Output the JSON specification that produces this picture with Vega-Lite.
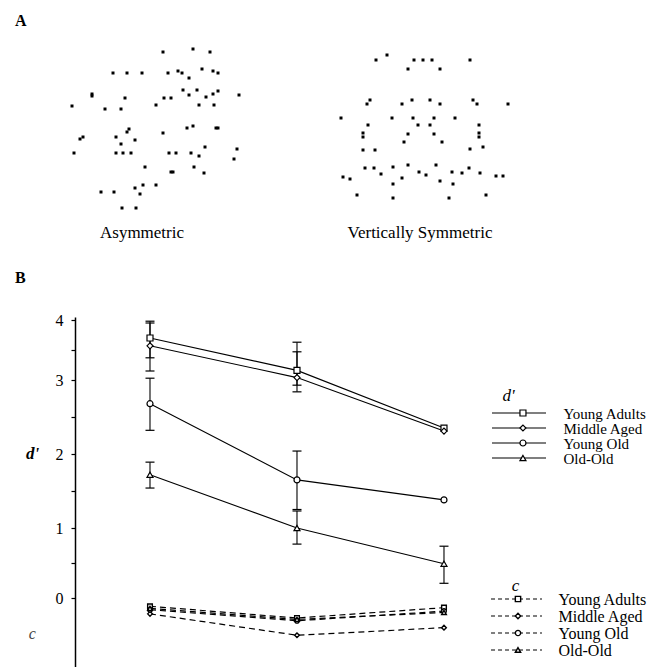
{
  "$schema": "https://vega.github.io/schema/vega-lite/v6.json",
  "autosize": {"type": "pad"},
  "padding": 0,
  "background": "white",
  "config": {"view": {"stroke": null}, "font": "Liberation Serif"},
  "bounds": "flush",
  "spacing": 0,
  "datasets": {
    "dots": [
      {"p":"asym","x":163,"y":52},{"p":"asym","x":193,"y":49},{"p":"asym","x":210,"y":52},
      {"p":"asym","x":113,"y":73},{"p":"asym","x":127,"y":73},{"p":"asym","x":142,"y":73},{"p":"asym","x":168,"y":73},{"p":"asym","x":178,"y":71},{"p":"asym","x":182,"y":73},{"p":"asym","x":189,"y":78},{"p":"asym","x":202,"y":69},{"p":"asym","x":213,"y":71},{"p":"asym","x":218,"y":73},
      {"p":"asym","x":92,"y":94},{"p":"asym","x":92,"y":96},{"p":"asym","x":72,"y":106},{"p":"asym","x":105,"y":109},{"p":"asym","x":121,"y":109},{"p":"asym","x":125,"y":98},{"p":"asym","x":156,"y":105},{"p":"asym","x":164,"y":98},{"p":"asym","x":171,"y":98},{"p":"asym","x":183,"y":90},{"p":"asym","x":189,"y":95},{"p":"asym","x":197,"y":90},{"p":"asym","x":206,"y":97},{"p":"asym","x":213,"y":94},{"p":"asym","x":218,"y":91},{"p":"asym","x":239,"y":95},{"p":"asym","x":199,"y":105},{"p":"asym","x":214,"y":105},
      {"p":"asym","x":129,"y":129},{"p":"asym","x":127,"y":132},{"p":"asym","x":187,"y":128},{"p":"asym","x":193,"y":126},{"p":"asym","x":216,"y":128},{"p":"asym","x":218,"y":128},{"p":"asym","x":163,"y":133},{"p":"asym","x":80,"y":139},{"p":"asym","x":83,"y":137},{"p":"asym","x":116,"y":137},{"p":"asym","x":121,"y":144},{"p":"asym","x":135,"y":140},
      {"p":"asym","x":74,"y":153},{"p":"asym","x":116,"y":153},{"p":"asym","x":123,"y":153},{"p":"asym","x":131,"y":153},{"p":"asym","x":169,"y":153},{"p":"asym","x":176,"y":153},{"p":"asym","x":191,"y":153},{"p":"asym","x":199,"y":156},{"p":"asym","x":205,"y":147},{"p":"asym","x":237,"y":149},{"p":"asym","x":234,"y":159},
      {"p":"asym","x":145,"y":167},{"p":"asym","x":171,"y":172},{"p":"asym","x":173,"y":172},{"p":"asym","x":194,"y":167},{"p":"asym","x":204,"y":173},
      {"p":"asym","x":101,"y":192},{"p":"asym","x":114,"y":192},{"p":"asym","x":135,"y":188},{"p":"asym","x":140,"y":194},{"p":"asym","x":143,"y":185},{"p":"asym","x":156,"y":185},
      {"p":"asym","x":122,"y":208},{"p":"asym","x":136,"y":208},
      {"p":"sym","x":376,"y":60},{"p":"sym","x":387,"y":55},{"p":"sym","x":408,"y":69},{"p":"sym","x":414,"y":60},{"p":"sym","x":423,"y":60},{"p":"sym","x":432,"y":60},{"p":"sym","x":440,"y":69},{"p":"sym","x":470,"y":60},
      {"p":"sym","x":367,"y":104},{"p":"sym","x":370,"y":100},{"p":"sym","x":402,"y":104},{"p":"sym","x":412,"y":100},{"p":"sym","x":430,"y":100},{"p":"sym","x":440,"y":104},{"p":"sym","x":473,"y":100},{"p":"sym","x":477,"y":104},{"p":"sym","x":508,"y":104},
      {"p":"sym","x":341,"y":118},{"p":"sym","x":392,"y":118},{"p":"sym","x":413,"y":118},{"p":"sym","x":434,"y":118},{"p":"sym","x":455,"y":118},
      {"p":"sym","x":368,"y":125},{"p":"sym","x":418,"y":125},{"p":"sym","x":430,"y":125},{"p":"sym","x":479,"y":125},
      {"p":"sym","x":363,"y":133},{"p":"sym","x":363,"y":137},{"p":"sym","x":408,"y":134},{"p":"sym","x":434,"y":134},{"p":"sym","x":479,"y":133},{"p":"sym","x":479,"y":137},{"p":"sym","x":404,"y":142},{"p":"sym","x":442,"y":142},
      {"p":"sym","x":363,"y":150},{"p":"sym","x":375,"y":150},{"p":"sym","x":470,"y":149},{"p":"sym","x":483,"y":147},
      {"p":"sym","x":365,"y":168},{"p":"sym","x":374,"y":168},{"p":"sym","x":381,"y":174},{"p":"sym","x":393,"y":167},{"p":"sym","x":408,"y":165},{"p":"sym","x":419,"y":172},{"p":"sym","x":426,"y":175},{"p":"sym","x":436,"y":165},{"p":"sym","x":452,"y":172},{"p":"sym","x":462,"y":173},{"p":"sym","x":469,"y":168},{"p":"sym","x":480,"y":173},{"p":"sym","x":496,"y":176},{"p":"sym","x":503,"y":176},
      {"p":"sym","x":343,"y":177},{"p":"sym","x":350,"y":179},{"p":"sym","x":393,"y":184},{"p":"sym","x":402,"y":178},{"p":"sym","x":440,"y":181},{"p":"sym","x":453,"y":184},
      {"p":"sym","x":357,"y":195},{"p":"sym","x":393,"y":198},{"p":"sym","x":449,"y":198},{"p":"sym","x":486,"y":195}
    ],
    "texts": [
      {"kind":"head","x":15,"y":26,"t":"A"},
      {"kind":"head","x":15,"y":283,"t":"B"},
      {"kind":"cap","x":142,"y":238,"t":"Asymmetric"},
      {"kind":"cap","x":420,"y":238,"t":"Vertically Symmetric"}
    ],
    "results": [
      {"m":"d'","g":"Young Adults","cond":1,"v":3.70,"lo":3.37,"hi":3.98},
      {"m":"d'","g":"Young Adults","cond":2,"v":3.16,"lo":2.93,"hi":3.63},
      {"m":"d'","g":"Young Adults","cond":3,"v":2.35,"lo":null,"hi":null},
      {"m":"d'","g":"Middle Aged","cond":1,"v":3.57,"lo":3.15,"hi":3.95},
      {"m":"d'","g":"Middle Aged","cond":2,"v":3.04,"lo":2.84,"hi":3.47},
      {"m":"d'","g":"Middle Aged","cond":3,"v":2.31,"lo":null,"hi":null},
      {"m":"d'","g":"Young Old","cond":1,"v":2.68,"lo":2.32,"hi":3.03},
      {"m":"d'","g":"Young Old","cond":2,"v":1.65,"lo":1.25,"hi":2.04},
      {"m":"d'","g":"Young Old","cond":3,"v":1.38,"lo":null,"hi":null},
      {"m":"d'","g":"Old-Old","cond":1,"v":1.72,"lo":1.54,"hi":1.89},
      {"m":"d'","g":"Old-Old","cond":2,"v":1.00,"lo":0.77,"hi":1.23},
      {"m":"d'","g":"Old-Old","cond":3,"v":0.49,"lo":0.21,"hi":0.74},
      {"m":"c","g":"Young Adults","cond":1,"v":-0.12,"lo":null,"hi":null},
      {"m":"c","g":"Young Adults","cond":2,"v":-0.29,"lo":null,"hi":null},
      {"m":"c","g":"Young Adults","cond":3,"v":-0.14,"lo":null,"hi":null},
      {"m":"c","g":"Middle Aged","cond":1,"v":-0.23,"lo":null,"hi":null},
      {"m":"c","g":"Middle Aged","cond":2,"v":-0.54,"lo":null,"hi":null},
      {"m":"c","g":"Middle Aged","cond":3,"v":-0.43,"lo":null,"hi":null},
      {"m":"c","g":"Young Old","cond":1,"v":-0.17,"lo":null,"hi":null},
      {"m":"c","g":"Young Old","cond":2,"v":-0.33,"lo":null,"hi":null},
      {"m":"c","g":"Young Old","cond":3,"v":-0.19,"lo":null,"hi":null},
      {"m":"c","g":"Old-Old","cond":1,"v":-0.15,"lo":null,"hi":null},
      {"m":"c","g":"Old-Old","cond":2,"v":-0.31,"lo":null,"hi":null},
      {"m":"c","g":"Old-Old","cond":3,"v":-0.21,"lo":null,"hi":null}
    ]
  },
  "vconcat": [
    {
      "width": 665,
      "height": 310,
      "layer": [
        {
          "data": {"name": "dots"},
          "mark": {"type": "point", "shape": "square", "filled": true, "color": "black", "size": 9, "opacity": 1},
          "encoding": {
            "x": {"field": "x", "type": "quantitative", "scale": {"domain": [0, 665], "zero": false, "nice": false}, "axis": null},
            "y": {"field": "y", "type": "quantitative", "scale": {"domain": [0, 310], "zero": false, "nice": false, "reverse": true}, "axis": null}
          }
        },
        {
          "data": {"name": "texts"},
          "transform": [{"filter": "datum.kind == 'head'"}],
          "mark": {"type": "text", "align": "left", "baseline": "alphabetic", "font": "Liberation Serif", "fontWeight": "bold", "fontSize": 16, "color": "black"},
          "encoding": {
            "x": {"field": "x", "type": "quantitative"},
            "y": {"field": "y", "type": "quantitative"},
            "text": {"field": "t"}
          }
        },
        {
          "data": {"name": "texts"},
          "transform": [{"filter": "datum.kind == 'cap'"}],
          "mark": {"type": "text", "align": "center", "baseline": "alphabetic", "font": "Liberation Serif", "fontSize": 17, "color": "black"},
          "encoding": {
            "x": {"field": "x", "type": "quantitative"},
            "y": {"field": "y", "type": "quantitative"},
            "text": {"field": "t"}
          }
        }
      ]
    },
    {
      "hconcat": [
        {
          "width": 75,
          "height": 357,
          "data": {"values": []},
          "mark": {"type": "point", "opacity": 0}
        },
        {
          "width": 400,
          "height": 357,
          "data": {"name": "results"},
          "layer": [
            {
              "transform": [{"filter": "datum.m == \"d'\""}],
              "mark": {"type": "line", "color": "black", "strokeWidth": 1.1},
              "encoding": {
                "x": {"field": "cond", "type": "quantitative", "scale": {"domain": [0.4898, 3.211], "zero": false, "nice": false}, "axis": null},
                "y": {
                  "field": "v", "type": "quantitative",
                  "scale": {"domain": [-1, 0, 1, 2, 3, 4, 4.05], "range": [357, 288, 218, 144, 70, 10, 7], "zero": false, "nice": false},
                  "axis": {
                    "orient": "left",
                    "values": [0, 0.5, 1, 1.5, 2, 2.5, 3, 3.5, 4],
                    "labelExpr": "datum.value % 1 == 0 ? format(datum.value, 'd') : ''",
                    "tickSize": 4,
                    "labelPadding": 8,
                    "labelFont": "Liberation Serif", "labelFontSize": 16, "labelColor": "black",
                    "labelOverlap": false, "labelBound": false, "labelFlush": false,
                    "domainColor": "black", "domainWidth": 1.5, "tickColor": "black", "tickWidth": 1.2, "grid": false,
                    "title": "d'", "titleAngle": 0, "titleX": -43, "titleY": 143, "titleAlign": "center", "titleBaseline": "middle",
                    "titleFont": "Liberation Serif", "titleFontSize": 17, "titleFontStyle": "italic", "titleFontWeight": "bold", "titleColor": "black"
                  }
                },
                "detail": {"field": "g"}
              }
            },
            {
              "transform": [{"filter": "datum.m == 'c'"}],
              "mark": {"type": "line", "color": "black", "strokeWidth": 1.2, "strokeDash": [6, 4]},
              "encoding": {
                "x": {"field": "cond", "type": "quantitative"},
                "y": {"field": "v", "type": "quantitative"},
                "detail": {"field": "g"}
              }
            },
            {
              "mark": {"type": "rule", "color": "black", "strokeWidth": 1.1},
              "encoding": {
                "x": {"field": "cond", "type": "quantitative"},
                "y": {"field": "lo", "type": "quantitative"},
                "y2": {"field": "hi"}
              }
            },
            {
              "mark": {"type": "tick", "orient": "horizontal", "color": "black", "size": 9, "thickness": 1.2, "opacity": 1},
              "encoding": {
                "x": {"field": "cond", "type": "quantitative"},
                "y": {"field": "lo", "type": "quantitative"}
              }
            },
            {
              "mark": {"type": "tick", "orient": "horizontal", "color": "black", "size": 9, "thickness": 1.2, "opacity": 1},
              "encoding": {
                "x": {"field": "cond", "type": "quantitative"},
                "y": {"field": "hi", "type": "quantitative"}
              }
            },
            {
              "transform": [{"filter": "datum.m == \"d'\""}],
              "mark": {"type": "point", "filled": true, "fill": "white", "stroke": "black", "strokeWidth": 1.2, "size": 36, "opacity": 1},
              "encoding": {
                "x": {"field": "cond", "type": "quantitative"},
                "y": {"field": "v", "type": "quantitative"},
                "shape": {"field": "g", "type": "nominal", "scale": {"domain": ["Young Adults", "Middle Aged", "Young Old", "Old-Old"], "range": ["square", "diamond", "circle", "triangle-up"]}, "legend": null}
              }
            },
            {
              "transform": [{"filter": "datum.m == 'c'"}],
              "mark": {"type": "point", "filled": true, "fill": "white", "stroke": "black", "strokeWidth": 1.4, "size": 22, "opacity": 1},
              "encoding": {
                "x": {"field": "cond", "type": "quantitative"},
                "y": {"field": "v", "type": "quantitative"},
                "shape": {"field": "g", "type": "nominal", "legend": null}
              }
            },
            {
              "data": {"values": [{"label": "c"}]},
              "mark": {"type": "text", "font": "Liberation Serif", "fontStyle": "italic", "fontSize": 16, "color": "#444444", "align": "center", "baseline": "middle"},
              "encoding": {
                "x": {"datum": 0.2, "type": "quantitative"},
                "y": {"datum": -0.52, "type": "quantitative"},
                "text": {"field": "label"}
              }
            }
          ]
        },
        {
          "vconcat": [
            {
              "width": 88,
              "height": 155,
              "data": {"name": "results"},
              "transform": [{"filter": "datum.m == \"d'\" && datum.cond == 1"}],
              "layer": [
                {
                  "mark": {"type": "rule", "color": "black", "strokeWidth": 1.2},
                  "encoding": {
                    "x": {"datum": 0.193, "type": "quantitative", "scale": {"domain": [0, 1], "zero": false, "nice": false}, "axis": null},
                    "x2": {"datum": 0.807},
                    "y": {
                      "field": "g", "type": "ordinal",
                      "scale": {"type": "point", "domain": ["Young Adults", "Middle Aged", "Young Old", "Old-Old"], "range": [103, 148], "padding": 0},
                      "axis": {
                        "orient": "right", "domain": false, "ticks": false, "labelPadding": 0, "labelAlign": "left", "labelBaseline": "middle",
                        "labelFont": "Liberation Serif", "labelFontSize": 15, "labelColor": "black", "labelLimit": 200,
                        "title": "d'", "titleAngle": 0, "titleX": -55, "titleY": 85, "titleAlign": "center", "titleBaseline": "middle",
                        "titleFont": "Liberation Serif", "titleFontSize": 17, "titleFontStyle": "italic", "titleFontWeight": "normal", "titleColor": "black"
                      }
                    }
                  }
                },
                {
                  "mark": {"type": "point", "filled": true, "fill": "white", "stroke": "black", "strokeWidth": 1.2, "size": 36, "opacity": 1},
                  "encoding": {
                    "x": {"datum": 0.545, "type": "quantitative"},
                    "y": {"field": "g", "type": "ordinal"},
                    "shape": {"field": "g", "type": "nominal", "scale": {"domain": ["Young Adults", "Middle Aged", "Young Old", "Old-Old"], "range": ["square", "diamond", "circle", "triangle-up"]}, "legend": null}
                  }
                }
              ]
            },
            {
              "width": 83,
              "height": 202,
              "data": {"name": "results"},
              "transform": [{"filter": "datum.m == 'c' && datum.cond == 1"}],
              "layer": [
                {
                  "mark": {"type": "rule", "color": "black", "strokeWidth": 1.2, "strokeDash": [4, 3]},
                  "encoding": {
                    "x": {"datum": 0.193, "type": "quantitative", "scale": {"domain": [0, 1], "zero": false, "nice": false}, "axis": null},
                    "x2": {"datum": 0.807},
                    "y": {
                      "field": "g", "type": "ordinal",
                      "scale": {"type": "point", "domain": ["Young Adults", "Middle Aged", "Young Old", "Old-Old"], "range": [134, 185], "padding": 0},
                      "axis": {
                        "orient": "right", "domain": false, "ticks": false, "labelPadding": 0, "labelAlign": "left", "labelBaseline": "middle",
                        "labelFont": "Liberation Serif", "labelFontSize": 16, "labelColor": "black", "labelLimit": 200,
                        "title": "c", "titleAngle": 0, "titleX": -43, "titleY": 120, "titleAlign": "center", "titleBaseline": "middle",
                        "titleFont": "Liberation Serif", "titleFontSize": 17, "titleFontStyle": "italic", "titleFontWeight": "normal", "titleColor": "black"
                      }
                    }
                  }
                },
                {
                  "mark": {"type": "point", "filled": true, "fill": "white", "stroke": "black", "strokeWidth": 1.4, "size": 28, "opacity": 1},
                  "encoding": {
                    "x": {"datum": 0.518, "type": "quantitative"},
                    "y": {"field": "g", "type": "ordinal"},
                    "shape": {"field": "g", "type": "nominal", "scale": {"domain": ["Young Adults", "Middle Aged", "Young Old", "Old-Old"], "range": ["square", "diamond", "circle", "triangle-up"]}, "legend": null}
                  }
                }
              ]
            }
          ],
          "spacing": 0,
          "bounds": "flush"
        }
      ],
      "spacing": 0,
      "bounds": "flush"
    }
  ]
}
